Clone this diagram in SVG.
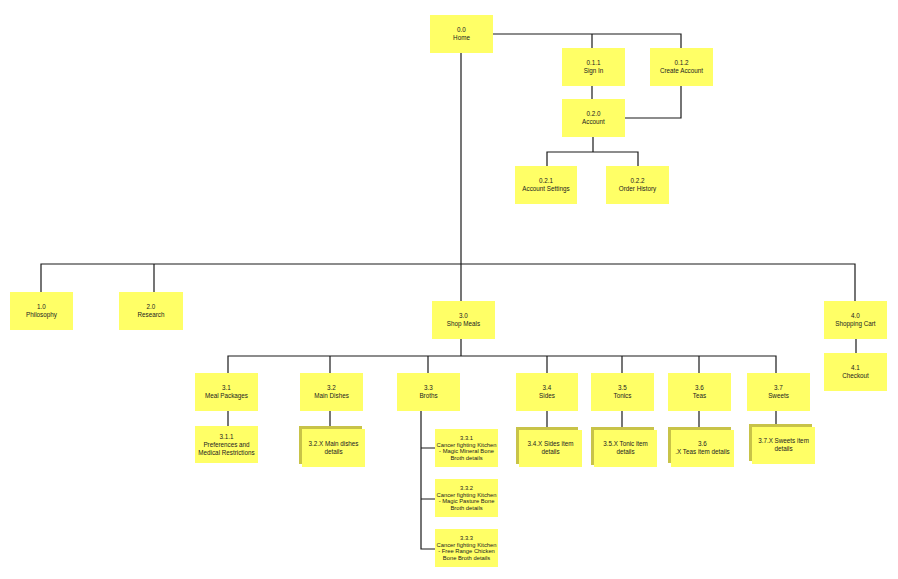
<svg xmlns="http://www.w3.org/2000/svg" width="898" height="579" viewBox="0 0 898 579">
<style>
.n{fill:#ffff66}
.s{fill:#c8c348}
.t{font-family:"Liberation Sans",Arial,sans-serif;font-size:6.3px;fill:#222;text-anchor:middle}
.sm{font-size:5.8px}
.c{fill:none;stroke:#1a1a1a;stroke-width:1.2}
</style>
<rect width="898" height="579" fill="#fff"/>
<g id="connectors" class="c">
<path d="M493 34H681V48"/>
<path d="M592 34V48"/>
<path d="M592 86V99"/>
<path d="M681 86V118H625"/>
<path d="M593 137V152M547 166V152H638V166"/>
<path d="M461 53V301"/>
<path d="M41 292V264H855V301"/>
<path d="M154 264V292"/>
<path d="M856 339V353"/>
<path d="M461 339V356"/>
<path d="M228 373V356H776V373"/>
<path d="M330 356V373"/>
<path d="M428 356V373"/>
<path d="M547 356V373"/>
<path d="M622 356V373"/>
<path d="M699 356V373"/>
<path d="M228 411V426"/>
<path d="M330 411V427"/>
<path d="M547 411V427"/>
<path d="M622 411V427"/>
<path d="M699 411V427"/>
<path d="M776 411V424"/>
<path d="M421 411V549H435M421 448H435M421 499H435"/>
</g>
<g id="n00"><rect class="n" x="430" y="15" width="63" height="38"/><text class="t" x="461.5" y="32">0.0</text><text class="t" x="461.5" y="40">Home</text></g>
<g id="n011"><rect class="n" x="562" y="48" width="63" height="38"/><text class="t" x="593.5" y="65">0.1.1</text><text class="t" x="593.5" y="73">Sign In</text></g>
<g id="n012"><rect class="n" x="650" y="48" width="63" height="38"/><text class="t" x="681.5" y="65">0.1.2</text><text class="t" x="681.5" y="73">Create Account</text></g>
<g id="n020"><rect class="n" x="562" y="99" width="63" height="38"/><text class="t" x="593.5" y="116">0.2.0</text><text class="t" x="593.5" y="124">Account</text></g>
<g id="n021"><rect class="n" x="515" y="166" width="62" height="38"/><text class="t" x="546" y="183">0.2.1</text><text class="t" x="546" y="191">Account Settings</text></g>
<g id="n022"><rect class="n" x="606" y="166" width="63" height="38"/><text class="t" x="637.5" y="183">0.2.2</text><text class="t" x="637.5" y="191">Order History</text></g>
<g id="n10"><rect class="n" x="10" y="292" width="63" height="38"/><text class="t" x="41.5" y="309">1.0</text><text class="t" x="41.5" y="317">Philosophy</text></g>
<g id="n20"><rect class="n" x="119" y="292" width="64" height="38"/><text class="t" x="151" y="309">2.0</text><text class="t" x="151" y="317">Research</text></g>
<g id="n30"><rect class="n" x="432" y="301" width="63" height="38"/><text class="t" x="463.5" y="318">3.0</text><text class="t" x="463.5" y="326">Shop Meals</text></g>
<g id="n40"><rect class="n" x="824" y="301" width="63" height="38"/><text class="t" x="855.5" y="318">4.0</text><text class="t" x="855.5" y="326">Shopping Cart</text></g>
<g id="n41"><rect class="n" x="824" y="353" width="63" height="38"/><text class="t" x="855.5" y="370">4.1</text><text class="t" x="855.5" y="378">Checkout</text></g>
<g id="n31"><rect class="n" x="195" y="373" width="63" height="38"/><text class="t" x="226.5" y="390">3.1</text><text class="t" x="226.5" y="398">Meal Packages</text></g>
<g id="n32"><rect class="n" x="300" y="373" width="63" height="38"/><text class="t" x="331.5" y="390">3.2</text><text class="t" x="331.5" y="398">Main Dishes</text></g>
<g id="n33"><rect class="n" x="397" y="373" width="63" height="38"/><text class="t" x="428.5" y="390">3.3</text><text class="t" x="428.5" y="398">Broths</text></g>
<g id="n34"><rect class="n" x="516" y="373" width="62" height="38"/><text class="t" x="547" y="390">3.4</text><text class="t" x="547" y="398">Sides</text></g>
<g id="n35"><rect class="n" x="591" y="373" width="63" height="38"/><text class="t" x="622.5" y="390">3.5</text><text class="t" x="622.5" y="398">Tonics</text></g>
<g id="n36"><rect class="n" x="668" y="373" width="63" height="38"/><text class="t" x="699.5" y="390">3.6</text><text class="t" x="699.5" y="398">Teas</text></g>
<g id="n37"><rect class="n" x="747" y="373" width="63" height="38"/><text class="t" x="778.5" y="390">3.7</text><text class="t" x="778.5" y="398">Sweets</text></g>
<g id="n311"><rect class="n" x="195" y="426" width="63" height="37"/><text class="t" x="226.5" y="439">3.1.1</text><text class="t" x="226.5" y="447">Preferences and</text><text class="t" x="226.5" y="455">Medical Restrictions</text></g>
<g id="n32x"><rect class="s" x="299" y="426" width="63" height="38"/><rect class="n" x="302" y="429" width="63" height="38"/><text class="t" x="333.5" y="446">3.2.X Main dishes</text><text class="t" x="333.5" y="454">details</text></g>
<g id="n331"><rect class="n" x="435" y="429" width="63" height="38"/><text class="t sm" x="466.5" y="440">3.3.1</text><text class="t sm" x="466.5" y="446.5">Cancer fighting Kitchen</text><text class="t sm" x="466.5" y="453">- Magic Mineral Bone</text><text class="t sm" x="466.5" y="459.5">Broth details</text></g>
<g id="n332"><rect class="n" x="435" y="479" width="63" height="38"/><text class="t sm" x="466.5" y="490">3.3.2</text><text class="t sm" x="466.5" y="496.5">Cancer fighting Kitchen</text><text class="t sm" x="466.5" y="503">- Magic Pasture Bone</text><text class="t sm" x="466.5" y="509.5">Broth details</text></g>
<g id="n333"><rect class="n" x="435" y="529" width="63" height="38"/><text class="t sm" x="466.5" y="540">3.3.3</text><text class="t sm" x="466.5" y="546.5">Cancer fighting Kitchen</text><text class="t sm" x="466.5" y="553">- Free Range Chicken</text><text class="t sm" x="466.5" y="559.5">Bone Broth details</text></g>
<g id="n34x"><rect class="s" x="516" y="427" width="62" height="37"/><rect class="n" x="519" y="430" width="63" height="37"/><text class="t" x="550.5" y="446">3.4.X Sides item</text><text class="t" x="550.5" y="454">details</text></g>
<g id="n35x"><rect class="s" x="591" y="427" width="63" height="38"/><rect class="n" x="594" y="430" width="63" height="37"/><text class="t" x="625.5" y="446">3.5.X Tonic item</text><text class="t" x="625.5" y="454">details</text></g>
<g id="n36x"><rect class="s" x="668" y="427" width="63" height="36"/><rect class="n" x="671" y="430" width="63" height="37"/><text class="t" x="702.5" y="446">3.6</text><text class="t" x="702.5" y="454">.X Teas item details</text></g>
<g id="n37x"><rect class="s" x="749" y="424" width="63" height="37"/><rect class="n" x="752" y="427" width="63" height="37"/><text class="t" x="783.5" y="443">3.7.X Sweets item</text><text class="t" x="783.5" y="451">details</text></g>
</svg>
